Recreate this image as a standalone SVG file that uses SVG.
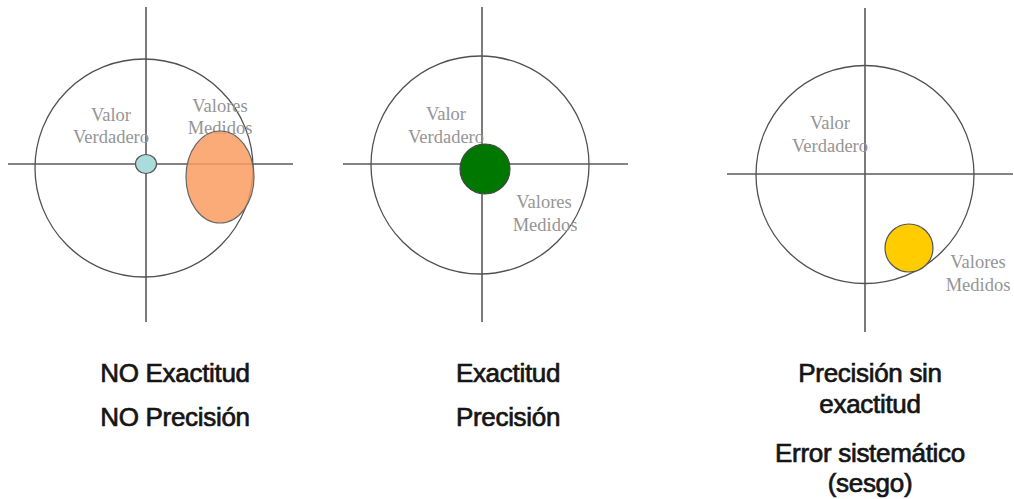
<svg xmlns="http://www.w3.org/2000/svg" width="1014" height="499" viewBox="0 0 1014 499">
<style>
.axis{stroke:#5a5a5a;stroke-width:1.6;fill:none}
.ring{stroke:#505050;stroke-width:1.3;fill:none}
.lbl{font-family:"Liberation Serif","Times New Roman",serif;font-size:18.5px;fill:#959595;text-anchor:middle}
.cap{font-family:"Liberation Sans",Arial,sans-serif;font-size:26px;fill:#151515;stroke:#151515;stroke-width:0.7;text-anchor:middle;letter-spacing:-0.3px}
</style>
<rect width="1014" height="499" fill="#ffffff"/>
<g id="panel1">
<line class="axis" x1="146" y1="7" x2="146" y2="322"/>
<line class="axis" x1="8" y1="164" x2="293" y2="164"/>
<circle class="ring" cx="144" cy="168" r="109"/>
<text class="lbl" x="111" y="121">Valor</text>
<text class="lbl" x="111" y="143">Verdadero</text>
<text class="lbl" x="220" y="112">Valores</text>
<text class="lbl" x="220" y="134">Medidos</text>
<ellipse cx="146" cy="164" rx="10.5" ry="9.5" fill="#abdcdc" stroke="#555" stroke-width="1.2"/>
<ellipse cx="220" cy="177" rx="34" ry="46" fill="#f99c60" fill-opacity="0.85" stroke="#666" stroke-width="1.2"/>
</g>
<g id="panel2">
<line class="axis" x1="482" y1="7" x2="482" y2="322"/>
<line class="axis" x1="343" y1="164" x2="628" y2="164"/>
<circle class="ring" cx="480" cy="165" r="109"/>
<text class="lbl" x="446" y="120">Valor</text>
<text class="lbl" x="446" y="143">Verdadero</text>
<text class="lbl" x="544" y="208">Valores</text>
<text class="lbl" x="545" y="231">Medidos</text>
<circle cx="485" cy="169" r="25" fill="#007800" stroke="#444" stroke-width="1.2"/>
</g>
<g id="panel3">
<line class="axis" x1="865" y1="8" x2="865" y2="332"/>
<line class="axis" x1="727" y1="174" x2="1013" y2="174"/>
<circle class="ring" cx="865" cy="174.5" r="109"/>
<text class="lbl" x="830" y="129">Valor</text>
<text class="lbl" x="830" y="152">Verdadero</text>
<text class="lbl" x="978" y="268">Valores</text>
<text class="lbl" x="978" y="291">Medidos</text>
<circle cx="909" cy="248" r="24" fill="#ffcc00" stroke="#555" stroke-width="1.2"/>
</g>
<g id="captions">
<text class="cap" x="175" y="382">NO Exactitud</text>
<text class="cap" x="175" y="426">NO Precisión</text>
<text class="cap" x="508" y="382">Exactitud</text>
<text class="cap" x="508" y="426">Precisión</text>
<text class="cap" x="870" y="382">Precisión sin</text>
<text class="cap" x="870" y="413">exactitud</text>
<text class="cap" x="870" y="462">Error sistemático</text>
<text class="cap" x="870" y="492">(sesgo)</text>
</g>
</svg>
